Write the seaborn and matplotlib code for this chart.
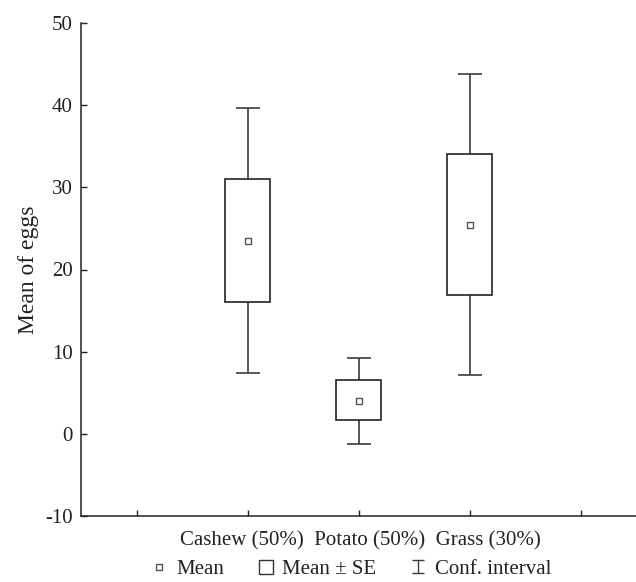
import numpy as np
import matplotlib
matplotlib.use("Agg")
import matplotlib.pyplot as plt
from matplotlib.lines import Line2D
from matplotlib.legend_handler import HandlerErrorbar
import seaborn as sns

sns.set_style("ticks")
plt.rcParams['font.family'] = ['Liberation Serif', 'DejaVu Serif']
plt.rcParams['axes.unicode_minus'] = False

# summary values
groups = ["Cashew (50%)", "Potato (50%)", "Grass (30%)"]
means = [23.5, 4.0, 25.4]
se_low = [16.1, 1.7, 16.9]
se_high = [31.0, 6.5, 34.1]
ci_low = [7.4, -1.2, 7.2]
ci_high = [39.6, 9.2, 43.8]
yticks = [-10, 0, 10, 20, 30, 40, 50]

pos = np.arange(1, len(groups) + 1)
means_a = np.array(means)

fig = plt.figure(figsize=(6.36, 5.82), dpi=100)
ax = fig.add_axes([81 / 636, 1 - 516 / 582, 1 - 81 / 636, (516 - 23) / 582])

# confidence interval whiskers
ax.errorbar(pos, means_a, yerr=[means_a - np.array(ci_low), np.array(ci_high) - means_a],
            fmt='none', ecolor='#3c3c3c', elinewidth=1.2, capsize=8.3, capthick=1.2, zorder=1)

# mean +- SE boxes
ax.bar(pos, np.array(se_high) - np.array(se_low), bottom=se_low, width=0.4,
       facecolor='white', edgecolor='#222222', linewidth=1.2, zorder=2)

# means
sns.scatterplot(x=pos, y=means, marker='s', s=14, color='white', edgecolor='#555555',
                linewidth=1.0, zorder=3, ax=ax)

ax.set_xlim(-0.5, 4.5)
ax.set_ylim(-10, 50)
ax.set_xticks(range(5))
ax.set_xticklabels([])
ax.set_yticks(yticks)
ax.tick_params(direction='in', length=4, width=1, labelsize=15, colors='#222222')
ax.tick_params(axis='y', pad=6)
for side in ['top', 'right']:
    ax.spines[side].set_visible(False)
for side in ['left', 'bottom']:
    ax.spines[side].set_linewidth(1.1)
    ax.spines[side].set_color('#222222')
ax.set_ylabel("Mean of eggs", fontsize=17, color='#222222', labelpad=4)

fig.text(360 / 636, 1 - 541 / 582, "  ".join(groups), ha='center', va='center',
         fontsize=15, color='#222222')

# legend proxies
h_mean = Line2D([], [], ls='none', marker='s', ms=3.8, mfc='white', mec='#555555', mew=1)
h_se = Line2D([], [], ls='none', marker='s', ms=9.5, mfc='white', mec='#333333', mew=1)
h_ci = ax.errorbar([np.nan], [np.nan], yerr=[1], fmt='none', ecolor='#3c3c3c',
                   elinewidth=1.0, capsize=4.5, capthick=1.0)
fig.legend(handles=[h_mean, h_se, h_ci], labels=["Mean", "Mean \u00b1 SE", "Conf. interval"],
           ncol=3, loc='center', bbox_to_anchor=(350 / 636, 1 - 569 / 582), frameon=False,
           handlelength=1.0, handletextpad=0.3, columnspacing=1.5, fontsize=15,
           labelcolor='#222222', borderpad=0, borderaxespad=0,
           handler_map={type(h_ci): HandlerErrorbar(xerr_size=0.3)})

fig.savefig("out.png", dpi=100)
